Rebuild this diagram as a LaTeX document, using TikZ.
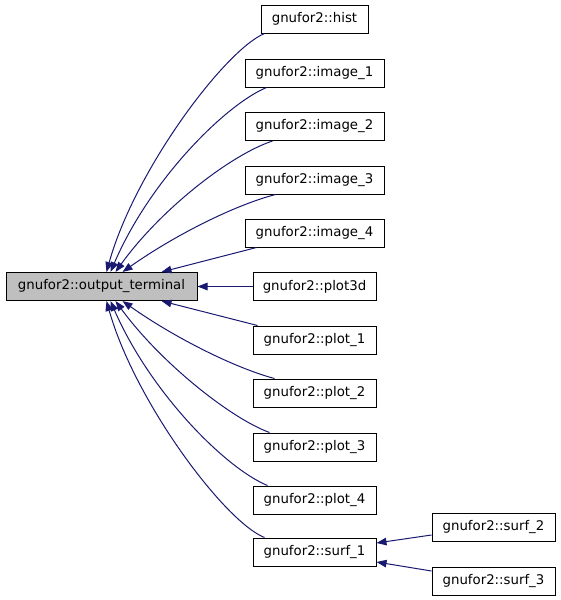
\documentclass[tikz,border=0pt]{standalone}
\usepackage{fontspec}
\setmainfont{DejaVu Sans}
\usetikzlibrary{arrows.meta}
\definecolor{edgeblue}{HTML}{191970}
\definecolor{mainfill}{HTML}{BFBFBF}
\begin{document}
\begin{tikzpicture}[x=1pt,y=-1pt,
  box/.style={draw=black,line width=1pt,minimum height=28pt,inner sep=0pt,
    font=\fontsize{13.3}{16}\selectfont,fill=white},
  edge/.style={draw=edgeblue,line width=1pt,-{Triangle[length=10pt,width=7.5pt]},edgeblue}]
\useasboundingbox (0,0) rectangle (560,600);
\node[box,fill=mainfill,minimum width=191pt] (main) at (101.5,286.5) {gnufor2::output\_terminal};
\node[box,minimum width=107pt] (hist) at (314.5,19) {gnufor2::hist};
\node[box,minimum width=139pt] (image1) at (314.5,73) {gnufor2::image\_1};
\node[box,minimum width=139pt] (image2) at (314.5,126.5) {gnufor2::image\_2};
\node[box,minimum width=139pt] (image3) at (314.5,180) {gnufor2::image\_3};
\node[box,minimum width=139pt] (image4) at (314.5,233) {gnufor2::image\_4};
\node[box,minimum width=123pt] (plot3d) at (314.5,286.5) {gnufor2::plot3d};
\node[box,minimum width=123pt] (plot1) at (314.5,340) {gnufor2::plot\_1};
\node[box,minimum width=123pt] (plot2) at (314.5,393) {gnufor2::plot\_2};
\node[box,minimum width=123pt] (plot3) at (314.5,447) {gnufor2::plot\_3};
\node[box,minimum width=123pt] (plot4) at (314.5,500) {gnufor2::plot\_4};
\node[box,minimum width=123pt] (surf1) at (314.5,552) {gnufor2::surf\_1};
\node[box,minimum width=123pt] (surf2) at (493.5,527) {gnufor2::surf\_2};
\node[box,minimum width=123pt] (surf3) at (493.5,581) {gnufor2::surf\_3};

\path[edge] ([xshift=4pt]hist.south west) .. controls (225,50) and (135,170) .. ([xshift=101pt]main.north west);
\path[edge] ([xshift=22pt]image1.south west) .. controls (225,105) and (150,180) .. ([xshift=105pt]main.north west);
\path[edge] ([xshift=28pt]image2.south west) .. controls (230,155) and (160,210) .. ([xshift=110pt]main.north west);
\path[edge] ([xshift=31pt]image3.south west) .. controls (235,205) and (175,235) .. ([xshift=117pt]main.north west);
\path[edge] ([xshift=12pt]image4.south west) -- ([xshift=156pt]main.north west);
\path[edge] (plot3d.west) -- (main.east);
\path[edge] ([xshift=5pt]plot1.north west) -- ([xshift=156pt]main.south west);
\path[edge] ([xshift=22pt]plot2.north west) .. controls (235,368) and (175,338) .. ([xshift=117pt]main.south west);
\path[edge] ([xshift=17pt]plot3.north west) .. controls (230,418) and (160,362) .. ([xshift=110pt]main.south west);
\path[edge] ([xshift=15pt]plot4.north west) .. controls (225,468) and (150,392) .. ([xshift=105pt]main.south west);
\path[edge] ([xshift=12pt]surf1.north west) .. controls (225,522) and (135,402) .. ([xshift=101pt]main.south west);
\path[edge] ([yshift=-8pt]surf2.west) -- ([yshift=9pt]surf1.east);
\path[edge] ([yshift=10pt]surf3.west) -- ([yshift=-10pt]surf1.east);
\end{tikzpicture}
\end{document}
